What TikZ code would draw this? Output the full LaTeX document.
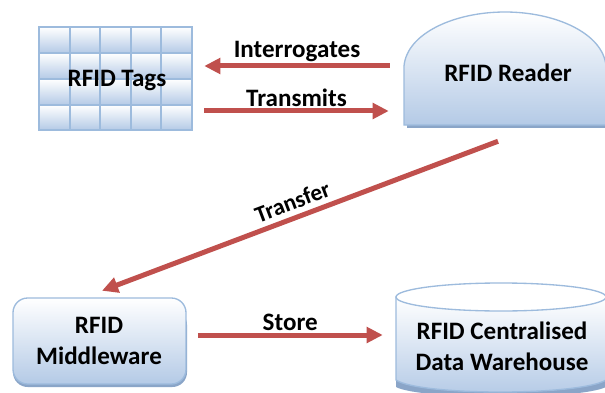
\documentclass[tikz,border=0pt]{standalone}
\usepackage{fontspec}
\setmainfont{Carlito}
\usetikzlibrary{arrows.meta,calc}
\definecolor{edgeblue}{HTML}{9DBBDD}
\definecolor{lowblue}{HTML}{B4CAE6}
\definecolor{shadowblue}{HTML}{8AA5C8}
\definecolor{flowred}{HTML}{C0504D}
\tikzset{
  x=0.75pt,y=-0.75pt,
  lab/.style={font=\bfseries\fontsize{18.8}{23}\selectfont,text=black,align=center,inner sep=0pt},
  flow/.style={draw=flowred,line width=3.75pt,-{Triangle[length=12pt,width=11.5pt]}},
  fill3d/.style={draw=edgeblue,line width=1pt,top color=white,bottom color=lowblue},
  shade3d/.style={fill=shadowblue,draw=none},
  cell/.style={draw=edgeblue,line width=1.8pt,top color=white,bottom color=lowblue},
  box/.style={draw=none,fill=none,inner sep=0pt},
  tag/.style={font=\bfseries\fontsize{18.8}{23}\selectfont,text=black,inner sep=0pt}
}
\begin{document}
\begin{tikzpicture}
\useasboundingbox (0,0) rectangle (605,392);
\clip (0,0) rectangle (605,392);
\fill[white] (0,0) rectangle (605,392);

% RFID Tags grid
\foreach \xa/\xb in {39/70,70/100,100/131,131/161,161/192}{
  \foreach \ya/\yb in {27/53,53/79,79/105,105/130}{
    \path[cell] (\xa,\ya) rectangle (\xb,\yb);
  }
}
\node[lab,minimum width=114.75pt,minimum height=77.25pt] (tags) at (115.5,78.5) {};
\node[lab] (tagstext) at (117,80) {RFID Tags};

% RFID Reader
\path[shade3d] (407,128) -- (407,80) -- (610,80) -- (610,128) -- cycle;
\path[fill3d] (404,125) -- (404,66) .. controls (407,33) and (455,12) .. (505,12)
  .. controls (555,12) and (603,33) .. (606,66) -- (606,125) -- cycle;
\node[box,minimum width=151.5pt,minimum height=84.75pt] (reader) at (505,68.5) {};
\node[lab] (readertext) at (508,73) {RFID Reader};

% RFID Middleware
\path[shade3d,rounded corners=11pt] (13,310) rectangle (187,387);
\path[fill3d,rounded corners=11pt] (13,298) rectangle (186,384);
\node[box,minimum width=129.75pt,minimum height=64.5pt] (middleware) at (99.5,341) {};
\node[lab] (middlewaretext) at (99,341) {RFID\\Middleware};

% RFID Centralised Data Warehouse
\path[shade3d] (396,310) -- (396,387) .. controls (420,400) and (580,400) .. (606,387) -- (606,310) -- cycle;
\path[fill3d] (396,297) -- (396,380) .. controls (420,396) and (580,396) .. (606,380) -- (606,297) -- cycle;
\path[draw=edgeblue,line width=1pt,fill=white] (501,297) ellipse [x radius=105,y radius=14];
\node[box,minimum width=157.5pt,minimum height=75pt] (warehouse) at (502,342) {};
\node[lab] (warehousetext) at (502,346) {RFID Centralised\\Data Warehouse};

% Connectors
\draw[flow] ($(reader.west)+(-14,-2.5)$) -- node[tag,above=1pt] {Interrogates} ($(tags.east)+(12,-12.5)$);
\draw[flow] ($(tags.east)+(12,32.5)$) -- node[tag,above=1.5pt] {Transmits} ($(reader.west)+(-15,42.5)$);
\draw[flow] ($(reader.south)+(-7,16)$) -- node[tag,sloped,above=4pt,pos=.505,font=\bfseries\fontsize{17.5}{21}\selectfont] {Transfer} ($(middleware.north)+(2.5,-7)$);
\draw[flow] ($(middleware.east)+(11.5,-6)$) -- node[tag,above=1.5pt] {Store} ($(warehouse.west)+(-14,-7)$);
\end{tikzpicture}
\end{document}
